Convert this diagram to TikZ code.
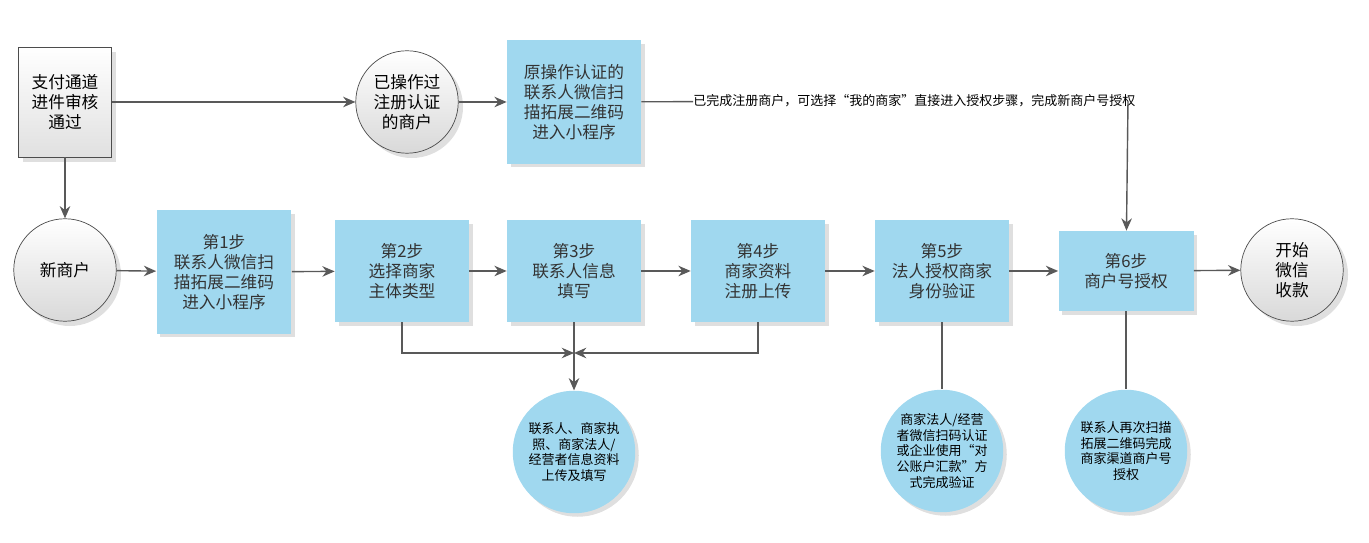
\documentclass[tikz,border=0pt]{standalone}
\usepackage{fontspec}
\setmainfont{Noto Sans CJK SC}
\usetikzlibrary{arrows.meta,shadows}
\definecolor{stepblue}{HTML}{A0D8EF}
\definecolor{linegray}{HTML}{595959}
\begin{document}
\begin{tikzpicture}[
    x=0.02cm, y=-0.02cm,
    stepbox/.style={rectangle, fill=stepblue, draw=none, inner sep=0pt, align=center, font=\fontsize{9.5}{11.5}\selectfont, text=black!80, drop shadow={opacity=0.25, shadow xshift=2pt, shadow yshift=-2pt}},
    grayc/.style={circle, draw=black!70, top color=white, bottom color=black!15, inner sep=0pt, minimum size=2.05cm, align=center, font=\fontsize{9.5}{11.5}\selectfont, drop shadow={opacity=0.25}},
    note/.style={circle, fill=stepblue, inner sep=0pt, minimum size=2.45cm, align=center, font=\fontsize{7.4}{9}\selectfont, drop shadow={opacity=0.25, shadow xshift=2pt, shadow yshift=-2pt}},
    arrow/.style={-{Stealth[length=7pt,width=6pt]}, linegray, thick},
    link/.style={linegray, thick}
]
    \useasboundingbox (0,0) rectangle (1369,543);

    % top row
    \node[rectangle, draw=black!70, top color=white, bottom color=black!12, inner sep=0pt, minimum width=1.86cm, minimum height=2.2cm, align=center, font=\fontsize{9.5}{11.5}\selectfont, drop shadow={opacity=0.25}] (start) at (65,102) {支付通道\\进件审核\\通过};
    \node[grayc] (done) at (407,102) {已操作过\\注册认证\\的商户};
    \node[stepbox, minimum width=2.68cm, minimum height=2.48cm] (rescan) at (574,102) {原操作认证的\\联系人微信扫\\描拓展二维码\\进入小程序};
    \node[anchor=west, inner sep=0pt, font=\fontsize{7.4}{9}\selectfont] (hint) at (693,101) {已完成注册商户，可选择“我的商家”直接进入授权步骤，完成新商户号授权};
    \coordinate (turn) at (1128,101);

    % main row
    \node[grayc] (new) at (65,270) {新商户};
    \node[stepbox, minimum width=2.7cm, minimum height=2.48cm] (s1) at (224,272) {第1步\\联系人微信扫\\描拓展二维码\\进入小程序};
    \node[stepbox, minimum width=2.68cm, minimum height=2.04cm] (s2) at (402,271) {第2步\\选择商家\\主体类型};
    \node[stepbox, minimum width=2.68cm, minimum height=2.04cm] (s3) at (574,271) {第3步\\联系人信息\\填写};
    \node[stepbox, minimum width=2.68cm, minimum height=2.04cm] (s4) at (758,271) {第4步\\商家资料\\注册上传};
    \node[stepbox, minimum width=2.68cm, minimum height=2.04cm] (s5) at (942,271) {第5步\\法人授权商家\\身份验证};
    \node[stepbox, minimum width=2.7cm, minimum height=1.6cm] (s6) at (1126,271) {第6步\\商户号授权};
    \node[grayc] (end) at (1292,270) {开始\\微信\\收款};

    % notes
    \node[note] (n3) at (574,452) {联系人、商家执\\照、商家法人/\\经营者信息资料\\上传及填写};
    \node[note] (n5) at (942,451) {商家法人/经营\\者微信扫码认证\\或企业使用“对\\公账户汇款”方\\式完成验证};
    \node[note] (n6) at (1126,451) {联系人再次扫描\\拓展二维码完成\\商家渠道商户号\\授权};
    \coordinate (join) at (574,353);

    % connectors
    \draw[arrow] (start) -- (done);
    \draw[arrow] (done) -- (rescan);
    \draw[link] (rescan) -- (hint);
    \draw[arrow] (turn) -- (s6);
    \draw[arrow] (start) -- (new);
    \draw[arrow] (new) -- (s1);
    \draw[arrow] (s1) -- (s2);
    \draw[arrow] (s2) -- (s3);
    \draw[arrow] (s3) -- (s4);
    \draw[arrow] (s4) -- (s5);
    \draw[arrow] (s5) -- (s6);
    \draw[arrow] (s6) -- (end);
    \draw[arrow] (s2.south) |- (join);
    \draw[arrow] (s4.south) |- (join);
    \draw[arrow] (s3) -- (n3);
    \draw[link] (s5) -- (n5);
    \draw[link] (s6) -- (n6);
\end{tikzpicture}
\end{document}
